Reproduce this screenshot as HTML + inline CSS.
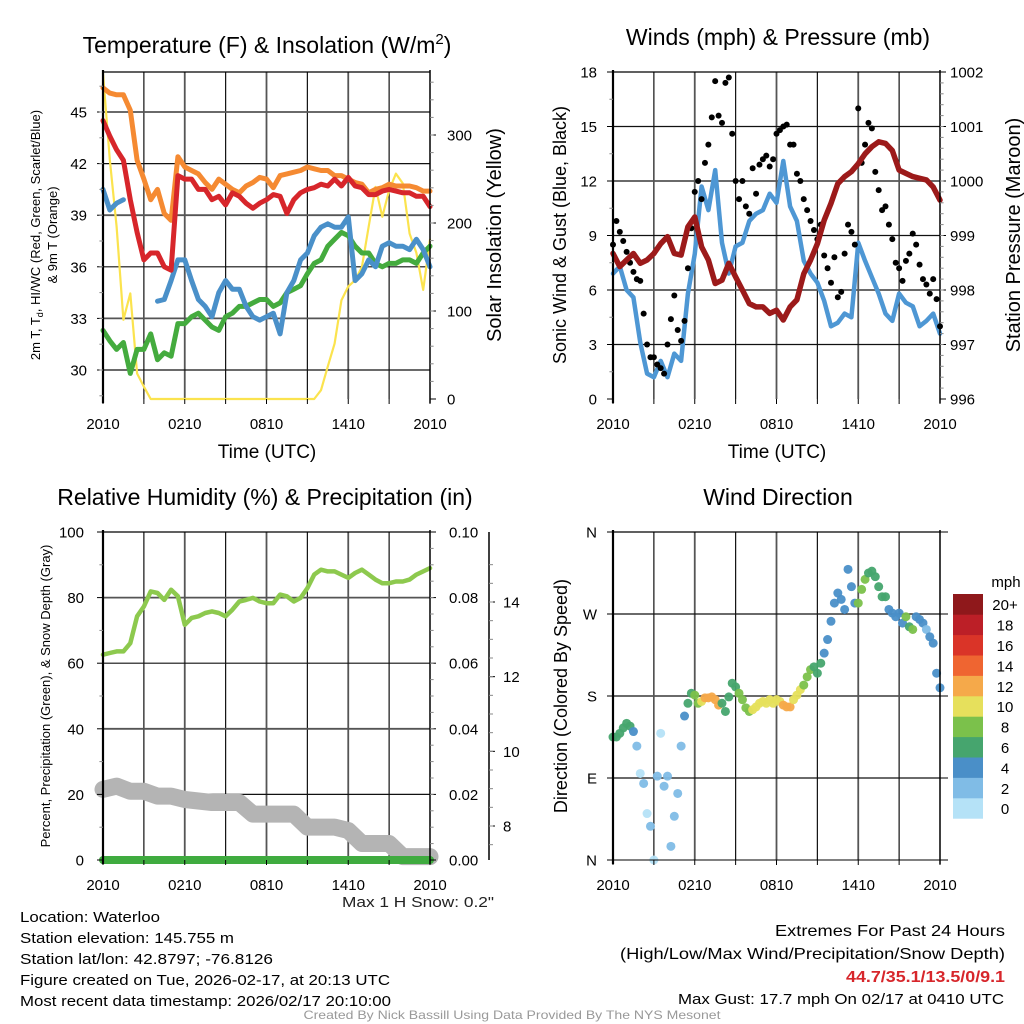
<!DOCTYPE html>
<html><head><meta charset="utf-8"><style>
html,body{margin:0;padding:0;background:#fff;}
svg{display:block;font-family:"Liberation Sans",sans-serif;}
</style></head><body>
<svg id="chart" width="1024" height="1024" viewBox="0 0 1024 1024" xmlns="http://www.w3.org/2000/svg">
<rect width="1024" height="1024" fill="#fff"/>
<g id="layer"></g>
</svg>
<script>
// ---------- DATA (half-hourly from 2010 UTC, 49 samples) ----------
const timeLabels = ["2010","0210","0810","1410","2010"];
const airTemp = [44.5,43.6,42.8,42.2,39.9,38.0,36.4,36.8,36.8,36.0,35.8,41.3,41.1,41.1,40.5,40.5,39.9,40.1,39.6,40.3,40.1,39.7,39.4,39.7,39.9,40.2,40.1,39.1,39.9,40.3,40.5,40.6,40.8,40.7,41.1,40.7,41.2,40.7,40.6,40.2,40.2,40.4,40.5,40.4,40.3,40.3,40.1,40.1,39.5];
const temp9m = [46.4,46.1,46.0,46.0,45.1,42.2,41.1,39.9,40.5,39.1,38.7,42.4,41.8,41.6,41.4,40.9,40.5,41.1,40.8,40.5,40.3,40.7,40.9,41.2,41.1,40.6,41.3,41.4,41.5,41.6,41.8,41.7,41.6,41.6,41.3,41.3,41.1,40.9,40.8,40.3,40.5,40.6,40.8,40.7,40.7,40.7,40.6,40.4,40.4];
const windChill = [40.5,39.3,39.7,39.9,null,null,null,null,34.0,34.1,35.2,36.4,36.4,35.2,34.1,33.7,33.1,34.5,35.2,34.7,34.7,33.7,33.1,32.9,33.1,33.3,32.1,34.5,35.2,36.4,36.8,37.8,38.3,38.5,38.3,38.3,38.9,35.2,35.6,36.4,36.0,37.2,37.4,37.2,37.2,37.0,37.6,37.0,36.0];
const dewPoint = [32.3,31.7,31.2,31.6,29.8,31.2,31.2,32.1,30.6,31.0,30.8,32.7,32.7,33.1,33.3,32.9,32.5,32.3,33.1,33.3,33.7,33.7,33.9,34.1,34.1,33.7,33.9,34.5,34.7,34.9,35.6,36.2,36.4,37.2,37.6,38.0,37.8,37.2,36.8,36.8,36.2,36.0,36.2,36.2,36.4,36.4,36.2,36.8,37.2];
const insolation = [370,272,196,90,120,29,14,0,0,0,0,0,0,0,0,0,0,0,0,0,0,0,0,0,0,0,0,0,0,0,0,0,10,37,63,112,128,135,150,196,241,207,237,256,245,188,166,124,181];
const windSpeed = [6.9,7.3,6.0,5.6,3.1,1.4,1.2,2.1,1.2,2.5,2.1,5.8,8.0,11.7,10.4,12.6,8.6,6.9,8.4,8.6,9.8,10.2,10.4,11.3,10.8,13.1,10.6,9.8,7.6,6.9,6.4,5.4,4.0,4.2,4.7,4.5,8.6,7.6,6.7,5.8,4.7,4.3,5.8,5.3,5.1,4.0,4.3,4.7,3.6];
const pressure = [998.67,998.43,998.55,998.67,998.49,998.55,998.67,998.85,998.98,998.67,998.64,999.16,999.34,998.79,998.55,998.12,998.18,998.49,998.24,998.0,997.75,997.69,997.69,997.57,997.63,997.45,997.69,997.82,998.30,998.55,998.85,999.28,999.59,999.95,1000.08,1000.17,1000.32,1000.50,1000.63,1000.72,1000.69,1000.56,1000.20,1000.14,1000.08,1000.05,1000.02,999.89,999.65];
const relHum = [62.6,63.1,63.6,63.6,66.1,74.3,77.3,81.9,81.4,79.3,82.4,80.4,71.7,73.8,74.3,75.3,75.8,75.3,74.3,76.3,78.8,79.3,79.9,78.8,78.3,78.3,80.9,80.4,78.8,79.9,82.9,87.0,88.5,88.0,88.0,87.0,86.0,87.5,88.5,87.0,85.5,84.4,84.4,84.9,84.9,85.5,87.0,88.0,89.0];
const precip = [0,0,0,0,0,0,0,0,0,0,0,0,0,0,0,0,0,0,0,0,0,0,0,0,0,0,0,0,0,0,0,0,0,0,0,0,0,0,0,0,0,0,0,0,0,0,0,0,0];
// quarter-hourly gusts (97 samples)
const gusts = [8.5,9.8,9.2,8.7, 8.1,7.5,7.0,6.6, 6.5,4.7,3.0,2.3, 2.3,1.9,1.7,1.4, 3.0,4.4,5.7,3.8, 3.2,4.3,7.2,9.4, 11.4,12.0,11.0,13.0, 14.0,15.5,17.5,15.6, 15.2,17.4,17.7,14.6, 12.0,11.0,12.0,10.6, 10.2,12.7,11.3,12.9, 13.2,13.4,12.8,13.2, 14.6,14.8,15.0,15.1, 14.0,14.0,12.4,12.0, 11.0,10.4,9.8,9.3, 8.8,9.6,7.9,7.2, 6.4,7.8,5.6,5.9, 8.0,9.6,9.2,8.5, 16.0,13.0,14.0,15.2, 14.9,12.5,11.5,10.4, 10.6,9.6,8.8,7.5, 7.2,6.5,7.6,8.0, 9.1,8.5,7.4,6.6, 6.3,5.8,6.6,5.5, 4.0];
// hourly snow depth (inches, 25 samples)
const snowDepth = [8.98,9.07,8.93,8.93,8.80,8.80,8.71,8.67,8.63,8.63,8.63,8.32,8.32,8.32,8.32,7.97,7.97,7.97,7.88,7.53,7.53,7.53,7.18,7.18,7.18];
// quarter-hourly wind direction (deg) and speed (mph)
const windDir = [135,135,139,145,150,147,141,125,95,84,51,37,0,92,139,81,92,15,48,73,125,158,172,183,181,172,174,178,178,179,176,170,172,163,179,194,190,183,176,167,163,165,168,172,174,172,176,172,176,174,170,168,168,176,181,187,192,201,209,212,205,216,227,242,262,282,293,286,275,319,300,282,282,297,308,315,317,311,300,289,289,275,271,267,271,260,267,256,253,267,264,260,253,245,238,205,189];
const dirSpeed = [6,7,6,6,6,6,5,3,1,2,1,2,1,2,0,3,2,2,2,2,2,4,6,7,8,9,10,12,12,12,12,12,6,7,6,7,7,8,8,8,8,10,10,10,10,10,10,10,10,10,12,12,12,10,10,10,8,8,8,6,6,6,4,4,4,4,4,4,4,4,4,5,8,8,8,7,6,6,6,6,6,4,4,4,4,4,8,6,8,4,4,4,2,4,4,4,4];
const speedBins = ["0","2","4","6","8","10","12","14","16","18","20+"];
const binColors = ["#b5e2f7","#80bce6","#4a8fc8","#46a56e","#7bc14b","#e6e05c","#f5a94a","#ef6531","#da3428","#bc1f27","#8f181b"];

// ---------- HELPERS ----------
const NS="http://www.w3.org/2000/svg";
const layer=document.getElementById('layer');
function mk(tag,attrs,parent){const e=document.createElementNS(NS,tag);for(const k in attrs)e.setAttribute(k,attrs[k]);(parent||layer).appendChild(e);return e;}
function txt(s,x,y,size,anchor,extra){const t=mk('text',Object.assign({x:x,y:y,'font-size':size,'text-anchor':anchor||'middle',fill:'#000'},extra||{}));t.textContent=s;return t;}

function makePanel(x0,y0,x1,y1){return {x0,y0,x1,y1,xs:h=>x0+h/24*(x1-x0)};}
function lin(d0,d1,p0,p1){return v=>p0+(v-d0)/(d1-d0)*(p1-p0);}

function grid(P,yVals,ys,name){
  const g=mk('g',{});
  
  
  for(let i=1;i<8;i++){const x=P.xs(i*3);mk('line',{x1:x,x2:x,y1:P.y0,y2:P.y1,stroke:i%2?'#111':'#555','stroke-width':i%2?1.2:1.8},g);}
  yVals.forEach((v,i)=>{const y=ys(v);mk('line',{x1:P.x0,x2:P.x1,y1:y,y2:y,stroke:i%2?'#555':'#111','stroke-width':i%2?1.8:1.2},g);});
}
function frame(P,name){
  const g=mk('g',{});
  
  
  mk('line',{x1:P.x0,x2:P.x0,y1:P.y0-2,y2:P.y1+4,stroke:'#000','stroke-width':2.2},g);
  mk('line',{x1:P.x1,x2:P.x1,y1:P.y0-2,y2:P.y1+4,stroke:'#000','stroke-width':1.5},g);
  mk('line',{x1:P.x0,x2:P.x1,y1:P.y0,y2:P.y0,stroke:'#000','stroke-width':1.2},g);
}
function xAxis(P,name,ly){
  const g=mk('g',{});
  
  
  for(let i=0;i<=8;i++){const x=P.xs(i*3);mk('line',{x1:x,x2:x,y1:P.y1,y2:P.y1+5,stroke:'#000','stroke-width':1},g);}
  timeLabels.forEach((l,i)=>{const t=txt(l,P.xs(i*6),ly,15,'middle');g.appendChild(t);});
}
function yAxis(P,side,vals,labels,ys,minor,name,lx){
  const g=mk('g',{});
  
  
  const x=side==='l'?P.x0:P.x1, d=side==='l'?-6:6;
  vals.forEach((v,i)=>{const y=ys(v);mk('line',{x1:x,x2:x+d,y1:y,y2:y,stroke:'#000','stroke-width':1},g);
    const t=txt(labels[i],lx,y+5.5,15,side==='l'?'end':'start');g.appendChild(t);});
  minor.forEach(v=>{const y=ys(v);mk('line',{x1:x,x2:x+d*0.6,y1:y,y2:y,stroke:'#888','stroke-width':1},g);});
}
function poly(P,vals,ys,step,color,w,name){
  let d='',pen=false;
  vals.forEach((v,i)=>{if(v===null){pen=false;return;}const x=P.xs(i*step),y=ys(v);d+=(pen?'L':'M')+x.toFixed(1)+','+y.toFixed(1);pen=true;});
  const p=mk('path',{d:d,fill:'none',stroke:color,'stroke-width':w,'stroke-linejoin':'round','stroke-linecap':'round'});
  
  
  return p;
}
function rangeStep(a,b,s){const r=[];for(let v=a;v<=b+1e-9;v+=s)r.push(+v.toFixed(4));return r;}

// ---------- PANEL 1: Temperature ----------
const P1=makePanel(103,72,430,399);
const yT=lin(30,45,370,112);
const yI=lin(0,300,399,135);
grid(P1,[30,33,36,39,42,45],yT,'temperature');
poly(P1,insolation,yI,0.5,'#fbe34e',2.2,'insolation-line');
poly(P1,dewPoint,yT,0.5,'#44ab3e',5,'dewpoint-line');
poly(P1,windChill,yT,0.5,'#4a90c9',5,'windchill-line');
poly(P1,temp9m,yT,0.5,'#f58a32',5,'temp-9m-line');
poly(P1,airTemp,yT,0.5,'#d7262b',5,'temp-2m-line');
frame(P1,'temperature');
xAxis(P1,'temperature',429);
yAxis(P1,'l',[30,33,36,39,42,45],['30','33','36','39','42','45'],yT,rangeStep(28.5,46.5,1.5),'temperature-y-axis',87);
yAxis(P1,'r',[0,100,200,300],['0','100','200','300'],yI,rangeStep(20,360,20),'insolation-y-axis',447);

// ---------- PANEL 2: Winds ----------
const P2=makePanel(613,72,940,399);
const yW=lin(0,18,399,72);
const yP=lin(996,1002,399,72);
grid(P2,[3,6,9,12,15],yW,'winds');
poly(P2,windSpeed,yW,0.5,'#4e97d4',4.5,'wind-speed-line');
gusts.forEach((g,i)=>{const c=mk('circle',{cx:P2.xs(i*0.25),cy:yW(g),r:3,fill:'#000'});
  
  });
poly(P2,pressure,yP,0.5,'#9c1a1a',5.5,'pressure-line');
frame(P2,'winds');
xAxis(P2,'winds',429);
yAxis(P2,'l',[0,3,6,9,12,15,18],['0','3','6','9','12','15','18'],yW,rangeStep(1.5,16.5,3),'wind-y-axis',597);
yAxis(P2,'r',[996,997,998,999,1000,1001,1002],['996','997','998','999','1000','1001','1002'],yP,rangeStep(996.2,1001.8,0.2),'pressure-y-axis',950);

// ---------- PANEL 3: RH / Precip ----------
const P3=makePanel(103,532,430,860);
const yR=lin(0,100,860,532);
const yPr=lin(0,0.1,860,532);
const ySn=lin(8,14,826,602);
grid(P3,[20,40,60,80],yR,'humidity');
poly(P3,snowDepth,ySn,1,'#b4b4b4',17,'snow-depth-line');
poly(P3,precip,yPr,0.5,'#3fab3f',8,'precip-line');
poly(P3,relHum,yR,0.5,'#8dc94e',4.5,'humidity-line');
frame(P3,'humidity');
xAxis(P3,'humidity',890);
yAxis(P3,'l',[0,20,40,60,80,100],['0','20','40','60','80','100'],yR,rangeStep(10,90,20),'humidity-y-axis',84);
yAxis(P3,'r',[0,0.02,0.04,0.06,0.08,0.1],['0.00','0.02','0.04','0.06','0.08','0.10'],yPr,rangeStep(0.005,0.095,0.005),'precip-y-axis',449);
(function(){const g=mk('g',{});
  
  
  mk('line',{x1:489,x2:489,y1:532,y2:860,stroke:'#000','stroke-width':1.5},g);
  [8,10,12,14].forEach(v=>{const y=ySn(v);mk('line',{x1:489,x2:495,y1:y,y2:y,stroke:'#000'},g);g.appendChild(txt(String(v),503,y+5.5,15,'start'));});
  rangeStep(7.5,15,0.5).forEach(v=>{const y=ySn(v);if(y>=532&&y<=860)mk('line',{x1:489,x2:493,y1:y,y2:y,stroke:'#888'},g);});
})();

// ---------- PANEL 4: Wind direction ----------
const P4=makePanel(613,532,940,860);
const yD=lin(0,360,860,532);
grid(P4,[90,180,270],yD,'direction');
windDir.forEach((d,i)=>{const b=Math.min(10,Math.floor(dirSpeed[i]/2));
  const c=mk('circle',{cx:P4.xs(i*0.25),cy:yD(d),r:4.5,fill:binColors[b],'fill-opacity':0.95});
  
  });
frame(P4,'direction');
mk('line',{x1:P4.x0,x2:P4.x1+8,y1:860,y2:860,stroke:'#000','stroke-width':1});
xAxis(P4,'direction',890);
yAxis(P4,'l',[0,90,180,270,360],['N','E','S','W','N'],yD,[],'direction-y-axis',597);
[0,90,180,270,360].forEach(v=>mk('line',{x1:P4.x1,x2:P4.x1+8,y1:yD(v),y2:yD(v),stroke:'#000'}));
(function(){const g=mk('g',{});
  
  
  const top=594,bh=20.4;
  speedBins.forEach((l,i)=>{const y=top+(10-i)*bh;mk('rect',{x:953,y:y,width:30,height:bh+0.3,fill:binColors[i]},g);
    g.appendChild(txt(l,1005,y+bh/2+6,15,'middle'));});
  g.appendChild(txt('mph',1006,587,15,'middle'));
})();

// ---------- TITLES / LABELS ----------
function label(s,x,y,size,name,rot,extra){const t=txt(s,x,y,size,'middle',Object.assign(rot?{transform:`rotate(-90 ${x} ${y})`}:{},extra||{}));
  
  return t;}
const t1=label('',267,53,23,'temperature-title');
t1.innerHTML='Temperature (F) &amp; Insolation (W/m<tspan dy="-9" font-size="15">2</tspan><tspan dy="9">)</tspan>';
label('Winds (mph) & Pressure (mb)',778,45,23,'winds-title');
label('Relative Humidity (%) & Precipitation (in)',265,505,23,'humidity-title');
label('Wind Direction',778,505,23,'direction-title');
label('Time (UTC)',267,458,19,'temperature-x-title');
label('Time (UTC)',777,458,19,'winds-x-title');
const yl=label('',40,235,13,'temperature-y-title',true);
yl.innerHTML='2m T, T<tspan dy="3" font-size="9">d</tspan><tspan dy="-3">, HI/WC (Red, Green, Scarlet/Blue)</tspan>';
label('& 9m T (Orange)',57,235,13,'temperature-y-title-2',true);
label('Solar Insolation (Yellow)',501,235,20,'insolation-y-title',true);
label('Sonic Wind & Gust (Blue, Black)',566,235,18,'wind-y-title',true);
label('Station Pressure (Maroon)',1020,235,20,'pressure-y-title',true);
label('Percent, Precipitation (Green), & Snow Depth (Gray)',50,696,13,'humidity-y-title',true);
label('Direction (Colored By Speed)',567,696,18,'direction-y-title',true);

// ---------- FOOTER ----------
function ft(s,x,y,size,anchor,len,name,extra){const t=txt(s,x,y,size,anchor,Object.assign({textLength:len,lengthAdjust:'spacingAndGlyphs'},extra||{}));
  
  return t;}
ft('Max 1 H Snow: 0.2"',494,907,15,'end',152,'max-snow-note',{fill:'#222'});
ft('Location: Waterloo',20,922,15,'start',140,'location-text');
ft('Station elevation: 145.755 m',20,943,15,'start',214,'elevation-text');
ft('Station lat/lon: 42.8797; -76.8126',20,964,15,'start',253,'latlon-text');
ft('Figure created on Tue, 2026-02-17, at 20:13 UTC',20,985,15,'start',370,'created-text');
ft('Most recent data timestamp: 2026/02/17 20:10:00',20,1006,15,'start',371,'timestamp-text');
ft('Extremes For Past 24 Hours',1005,936,16,'end',230,'extremes-title');
ft('(High/Low/Max Wind/Precipitation/Snow Depth)',1005,959,16,'end',385,'extremes-legend');
ft('44.7/35.1/13.5/0/9.1',1005,982,16,'end',159,'extremes-values',{fill:'#d7262b','font-weight':'bold'});
ft('Max Gust: 17.7 mph On 02/17 at 0410 UTC',1004,1004,15,'end',326,'max-gust-text');
ft('Created By Nick Bassill Using Data Provided By The NYS Mesonet',512,1019,12,'middle',417,'credit-text',{fill:'#999'});
</script>
</body></html>
